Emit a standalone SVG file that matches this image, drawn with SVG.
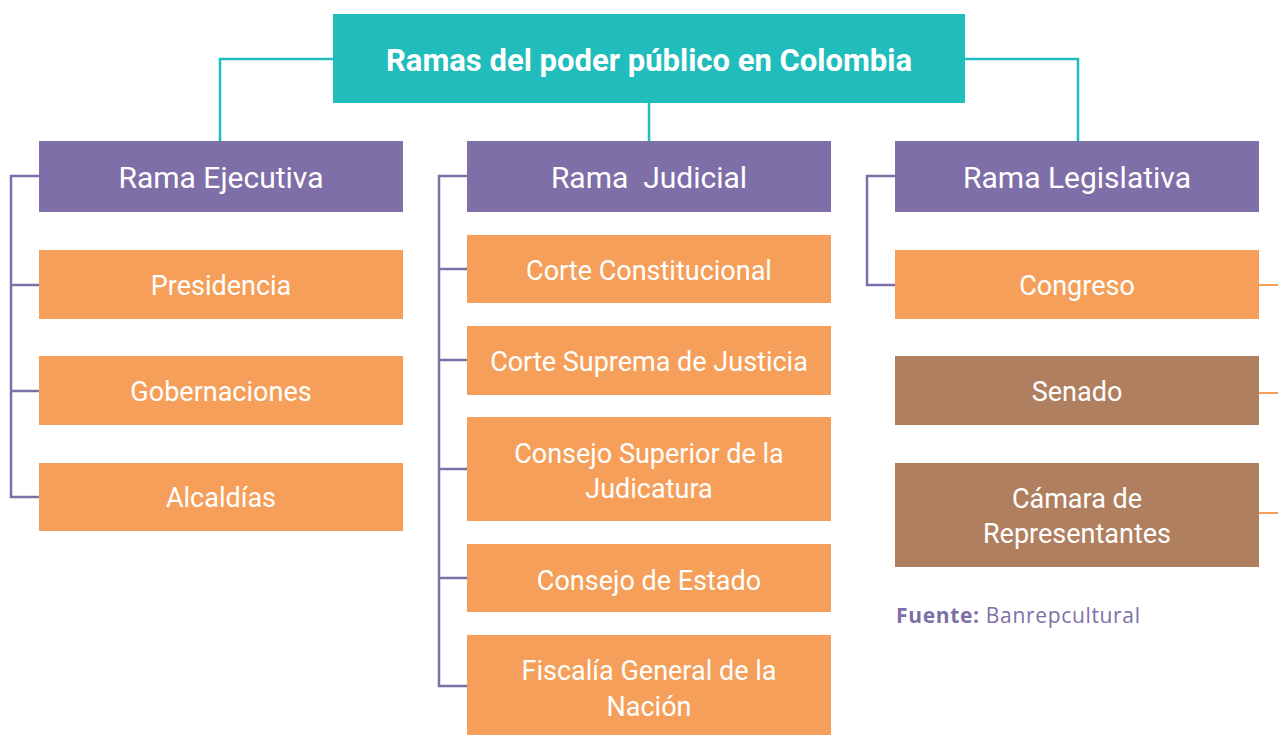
<svg xmlns="http://www.w3.org/2000/svg" width="1278" height="735" viewBox="0 0 1278 735">
<style>
.t{font-family:Roboto,"Liberation Sans",sans-serif;fill:#fff;text-anchor:middle;font-size:27px}
.h{font-size:30px}
.title{font-family:Roboto,"Liberation Sans",sans-serif;fill:#fff;text-anchor:middle;font-size:31px;font-weight:bold}
.p{fill:#7E6FA8}.o{fill:#F59F5B}.b{fill:#B07F5F}
.ct{stroke:#21BDBD;stroke-width:2.5;fill:none}
.cp{stroke:#7E6FA8;stroke-width:2.5;fill:none}
.co{stroke:#F59F5B;stroke-width:2;fill:none}
</style>
<rect width="1278" height="735" fill="#fff"/>
<g id="connectors">
<path class="ct" d="M333 59H220V141M965 59H1078V141M649 103V141"/>
<path class="cp" d="M39 176H11V497H39M11 285H39M11 391H39"/>
<path class="cp" d="M467 176H439V686H467M439 269H467M439 360H467M439 469H467M439 578H467"/>
<path class="cp" d="M895 176H867V285H895"/>
<path class="co" d="M1259 285H1278M1259 393H1278M1259 513H1278"/>
</g>
<g id="title"><rect x="333" y="14" width="632" height="89" fill="#21BDBD"/><text class="title" x="649" y="71" textLength="526" lengthAdjust="spacingAndGlyphs">Ramas del poder público en Colombia</text></g>
<g id="ejecutiva"><rect class="p" x="39" y="141" width="364" height="71"/><text class="t h" x="221" y="188">Rama Ejecutiva</text></g>
<g id="presidencia"><rect class="o" x="39" y="250" width="364" height="69"/><text class="t" x="221" y="295">Presidencia</text></g>
<g id="gobernaciones"><rect class="o" x="39" y="356" width="364" height="69"/><text class="t" x="221" y="401">Gobernaciones</text></g>
<g id="alcaldias"><rect class="o" x="39" y="463" width="364" height="68"/><text class="t" x="221" y="507">Alcaldías</text></g>
<g id="judicial"><rect class="p" x="467" y="141" width="364" height="71"/><text class="t h" x="649" y="188" xml:space="preserve">Rama  Judicial</text></g>
<g id="corte-constitucional"><rect class="o" x="467" y="235" width="364" height="68"/><text class="t" x="649" y="280">Corte Constitucional</text></g>
<g id="corte-suprema"><rect class="o" x="467" y="326" width="364" height="69"/><text class="t" x="649" y="371">Corte Suprema de Justicia</text></g>
<g id="consejo-superior"><rect class="o" x="467" y="417" width="364" height="104"/><text class="t" x="649" y="463">Consejo Superior de la</text><text class="t" x="649" y="498">Judicatura</text></g>
<g id="consejo-estado"><rect class="o" x="467" y="544" width="364" height="68"/><text class="t" x="649" y="590">Consejo de Estado</text></g>
<g id="fiscalia"><rect class="o" x="467" y="635" width="364" height="100"/><text class="t" x="649" y="680">Fiscalía General de la</text><text class="t" x="649" y="716">Nación</text></g>
<g id="legislativa"><rect class="p" x="895" y="141" width="364" height="71"/><text class="t h" x="1077" y="188">Rama Legislativa</text></g>
<g id="congreso"><rect class="o" x="895" y="250" width="364" height="69"/><text class="t" x="1077" y="295">Congreso</text></g>
<g id="senado"><rect class="b" x="895" y="356" width="364" height="69"/><text class="t" x="1077" y="401">Senado</text></g>
<g id="camara"><rect class="b" x="895" y="463" width="364" height="104"/><text class="t" x="1077" y="508">Cámara de</text><text class="t" x="1077" y="543">Representantes</text></g>
<g id="fuente"><text x="896" y="623" font-family="'Open Sans','Liberation Sans',sans-serif" font-size="21" fill="#7E6FA8" textLength="244"><tspan font-weight="bold">Fuente:</tspan> Banrepcultural</text></g>
</svg>
